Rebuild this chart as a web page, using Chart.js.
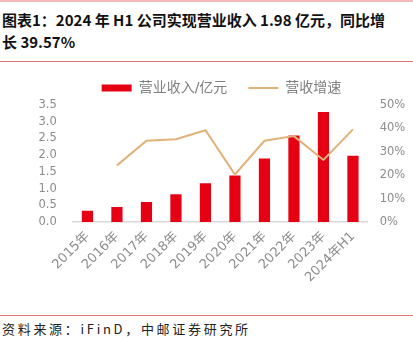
<!DOCTYPE html>
<html>
<head>
<meta charset="utf-8">
<script src="https://cdn.jsdelivr.net/npm/chart.js@4.4.1/dist/chart.umd.min.js"></script>
<style>
  html, body { margin: 0; padding: 0; background: #fff; }
  body { width: 413px; height: 339px; position: relative; overflow: hidden; font-family: 'Noto Sans CJK SC', sans-serif; }
  .rule { position: absolute; left: 0; width: 413px; }
  #title { position: absolute; left: 2px; top: 9px; font-size: 15px; font-weight: bold; line-height: 21.5px; color: #111; white-space: nowrap; }
  #source { position: absolute; left: 2px; top: 319px; font-size: 13px; letter-spacing: 2.7px; color: #222; white-space: nowrap; }
  #wrap { position: absolute; left: 37px; top: 50px; width: 369px; height: 264px; }
</style>
</head>
<body>
<div class="rule" style="top:0; height:1.5px; background:#f2b9b9;"></div>
<div id="title">图表1：2024 年 H1 公司实现营业收入 1.98 亿元，同比增<br>长 39.57%</div>
<div class="rule" style="top:60.5px; height:1px; background:#e27474;"></div>
<div id="wrap"><canvas id="chart"></canvas></div>
<div class="rule" style="top:315px; height:1px; background:#e27474;"></div>
<div id="source">资料来源：iFinD，中邮证券研究所</div>
<script>
const years = ['2015年', '2016年', '2017年', '2018年', '2019年', '2020年', '2021年', '2022年', '2023年', '2024年H1'];
const revenue = [0.34, 0.45, 0.60, 0.83, 1.16, 1.39, 1.90, 2.59, 3.29, 1.98];
const growth = [null, 24.2, 34.7, 35.4, 39.2, 20.3, 34.7, 36.7, 26.5, 39.57];

const TICK_FONT = { family: "'DejaVu Sans', 'Noto Sans CJK SC'", size: 11.5 };
const GREY = '#8c8c8c';

new Chart(document.getElementById('chart').getContext('2d'), {
  type: 'bar',
  data: {
    labels: years,
    datasets: [
      {
        label: '营业收入/亿元',
        data: revenue,
        backgroundColor: '#e50014',
        borderWidth: 0,
        barPercentage: 0.38,
        categoryPercentage: 1,
        pointStyle: 'rect',
        yAxisID: 'y',
        order: 1
      },
      {
        type: 'line',
        label: '营收增速',
        data: growth,
        borderColor: '#e0b27a',
        backgroundColor: '#e0b27a',
        borderWidth: 2,
        pointRadius: 0,
        pointStyle: 'line',
        tension: 0,
        yAxisID: 'y1',
        order: 0
      }
    ]
  },
  options: {
    responsive: true,
    maintainAspectRatio: false,
    animation: false,
    layout: { padding: { top: 10, left: 0, right: 0, bottom: 0 } },
    plugins: {
      tooltip: { enabled: false },
      legend: {
        position: 'top',
        labels: {
          usePointStyle: true,
          pointStyleWidth: 30,
          boxHeight: 7,
          padding: 21,
          color: '#7f7f7f',
          font: { family: "'DejaVu Sans', 'Noto Sans CJK SC'", size: 14 },
          sort: (a, b) => a.datasetIndex - b.datasetIndex
        }
      }
    },
    scales: {
      x: {
        grid: { display: false, drawTicks: false },
        border: { display: true, color: '#d9d9d9', width: 1.5 },
        ticks: {
          color: GREY,
          font: { family: "'DejaVu Sans', 'Noto Sans CJK SC'", size: 13 },
          minRotation: 45,
          maxRotation: 45,
          autoSkip: false,
          padding: 7
        },
        afterFit: (s) => { s.height = 92; }
      },
      y: {
        position: 'left',
        min: 0,
        max: 3.5,
        grid: { display: false, drawTicks: false },
        border: { display: false },
        ticks: {
          stepSize: 0.5,
          autoSkip: false,
          color: GREY,
          font: TICK_FONT,
          padding: 16,
          callback: (v) => Number(v).toFixed(1)
        },
        afterFit: (s) => { s.width = 35.7; }
      },
      y1: {
        position: 'right',
        min: 0,
        max: 50,
        grid: { display: false, drawTicks: false },
        border: { display: false },
        ticks: {
          stepSize: 10,
          autoSkip: false,
          color: GREY,
          font: TICK_FONT,
          padding: 12,
          callback: (v) => v + '%'
        },
        afterFit: (s) => { s.width = 38.3; }
      }
    }
  }
});
</script>
</body>
</html>
